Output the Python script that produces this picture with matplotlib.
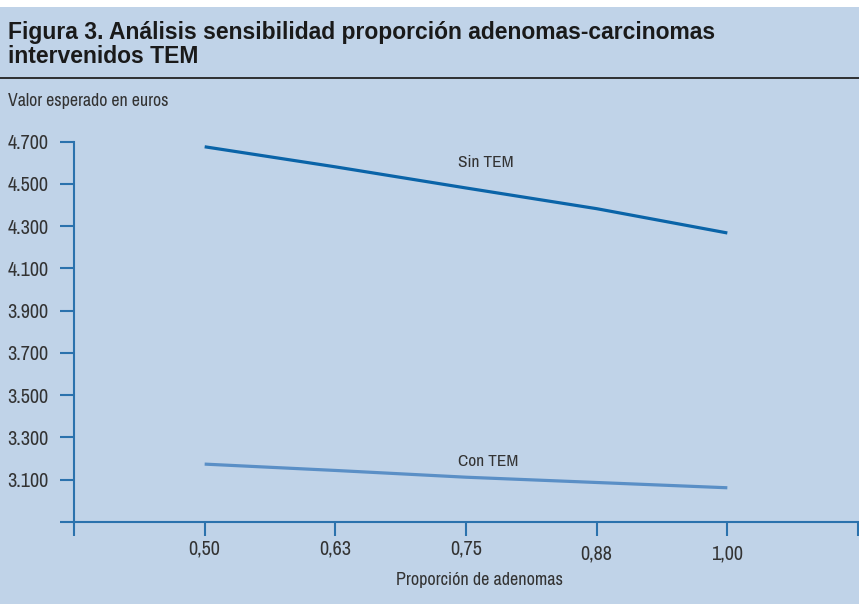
import matplotlib
matplotlib.use("Agg")
import matplotlib.pyplot as plt
from matplotlib import font_manager
from matplotlib.patches import Rectangle
from matplotlib.lines import Line2D

# Data
proporcion = ["0,50", "0,63", "0,75", "0,88", "1,00"]
sin_tem = [4676, 4581, 4481, 4383, 4268]
con_tem = [3174, 3144, 3112, 3087, 3062]
y_ticks = [2900, 3100, 3300, 3500, 3700, 3900, 4100, 4300, 4500, 4700]
y_labels = ["", "3.100", "3.300", "3.500", "3.700", "3.900", "4.100", "4.300", "4.500", "4.700"]

names = {f.name for f in font_manager.fontManager.ttflist}
if "Liberation Sans Narrow" in names:
    FONT = "Liberation Sans Narrow"
else:
    narrow = sorted(n for n in names if "Narrow" in n or "Condensed" in n)
    FONT = narrow[0] if narrow else "Liberation Sans"
plt.rcParams["font.family"] = [FONT, "DejaVu Sans"]
TITLE_FONT = ["Liberation Sans", "DejaVu Sans"]

W, H = 859, 604
BG = "#c0d3e8"
TXT = "#333333"
AX = "#2b72ad"
fig = plt.figure(figsize=(W / 100, H / 100), dpi=100, facecolor="white")

def fx(px):
    return px / W

def fy(py):
    return 1 - py / H

# panel background and title rule
fig.patches.append(Rectangle((0, 0), 1, fy(7), transform=fig.transFigure,
                             facecolor=BG, edgecolor="none", zorder=-10))
fig.lines.append(Line2D([0, 1], [fy(77.5), fy(77.5)], transform=fig.transFigure,
                        color="#222222", lw=1.3))

fig.text(fx(8), fy(38.5), "Figura 3. Análisis sensibilidad proporción adenomas-carcinomas",
         fontsize=16.5, fontweight="bold", color="#1a1a1a", ha="left", va="baseline",
         family=TITLE_FONT)
fig.text(fx(8), fy(63), "intervenidos TEM",
         fontsize=16.5, fontweight="bold", color="#1a1a1a", ha="left", va="baseline",
         family=TITLE_FONT)
fig.text(fx(8), fy(105.7), "Valor esperado en euros", fontsize=12.8, color=TXT,
         ha="left", va="baseline")

ax = fig.add_axes([fx(74), fy(522), fx(858) - fx(74), fy(141.7) - fy(522)])
ax.set_facecolor("none")
ax.set_zorder(5)
x = list(range(1, len(proporcion) + 1))
ax.plot(x, sin_tem, color="#0a64a8", lw=2.3, solid_capstyle="butt")
ax.plot(x, con_tem, color="#5a8fc6", lw=2.3, solid_capstyle="butt")

ax.set_xlim(0, len(proporcion) + 1)
ax.set_ylim(y_ticks[0], y_ticks[-1])
ax.set_xticks(range(0, len(proporcion) + 2))
ax.set_xticklabels([""] + proporcion + [""])
ax.set_yticks(y_ticks)
ax.set_yticklabels(y_labels)

for s in ("top", "right"):
    ax.spines[s].set_visible(False)
for s in ("left", "bottom"):
    ax.spines[s].set_color(AX)
    ax.spines[s].set_linewidth(1.5)

ax.tick_params(axis="both", length=10, width=1.5, color=AX, labelcolor=TXT,
               labelsize=14.5)
ax.tick_params(axis="y", pad=8.5)
ax.tick_params(axis="x", pad=2.5)
for t in ax.xaxis.get_major_ticks():
    t.tick1line.set_clip_on(False)
xt = ax.xaxis.get_major_ticks()
xt[4].set_pad(6.5)
xt[5].set_pad(6.5)

ax.text(3.15, 4600, "Sin TEM", fontsize=12.5, color=TXT, ha="center", va="center")
ax.text(3.17, 3186, "Con TEM", fontsize=12.5, color=TXT, ha="center", va="center")

fig.text(fx(480), fy(579.5), "Proporción de adenomas", fontsize=13, color=TXT,
         ha="center", va="center")

fig.savefig("out.png", dpi=100, facecolor="white")
